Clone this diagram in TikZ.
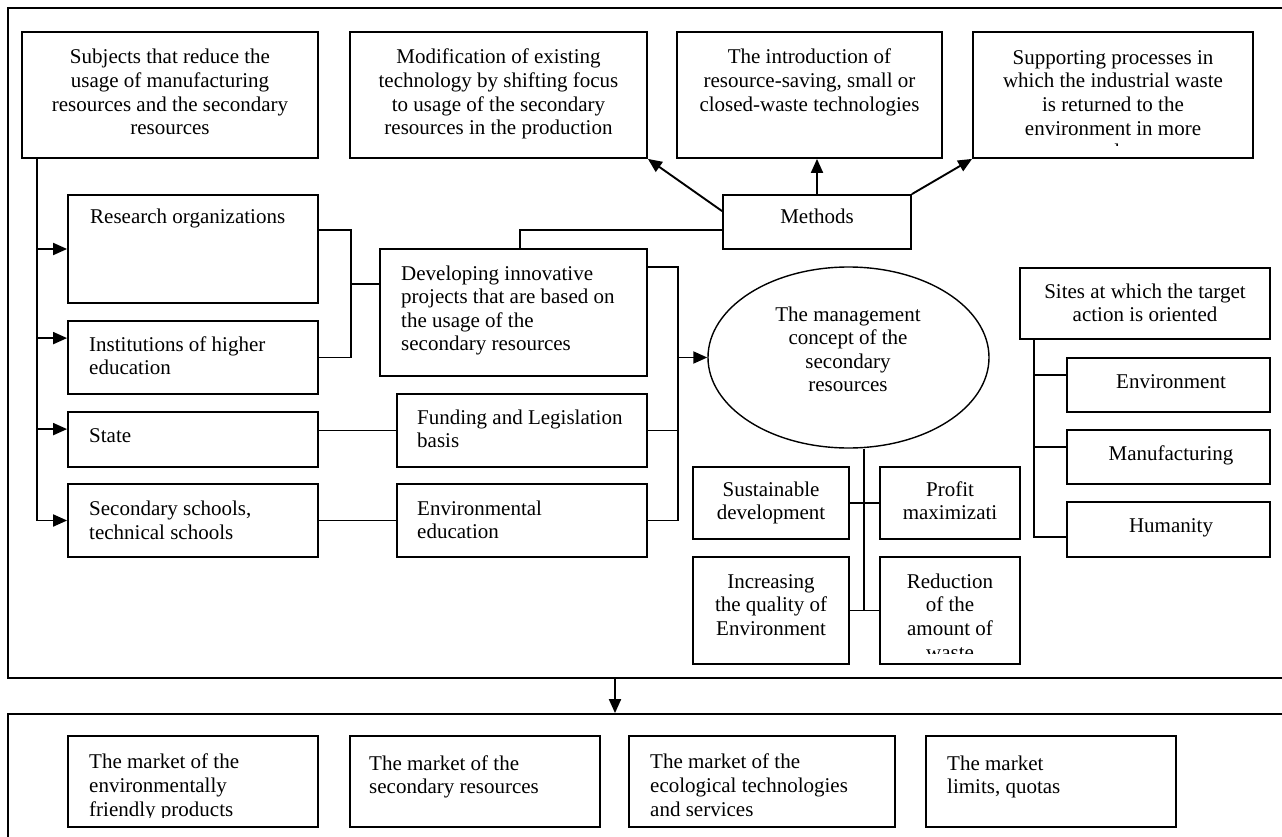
\documentclass[tikz,border=0pt]{standalone}
\usepackage{fontspec}
\setmainfont{Liberation Serif}
\usetikzlibrary{arrows.meta,shapes.geometric,fit,calc}
\begin{document}
\begin{tikzpicture}[x=1pt,y=-1pt,
  box/.style={draw, line width=1.8pt, inner sep=0pt},
  ln/.style={line width=1.9pt},
  arr/.style={line width=1.9pt, -{Triangle[length=14pt,width=12pt]}},
  ctxt/.style={inner sep=0pt, align=center, font=\fontsize{21}{23.6}\selectfont, anchor=base},
  ltxt/.style={inner sep=0pt, align=left, font=\fontsize{21}{23.6}\selectfont, anchor=base west},
]
\useasboundingbox (0,0) rectangle (1282,837);
\clip (0,0) rectangle (1282,837);

% frames
\node[box, fit={(8,8) (1300,678)}] (topF) {};
\node[box, fit={(8,714) (1300,900)}] (botF) {};
\coordinate (xA) at (615,0);
\draw[arr] (topF.south -| xA) -- (botF.north -| xA);

% boxes
\node[box, fit={(22,32) (318,158)}] (subj) {};
\node[box, fit={(350,32) (647,158)}] (mod) {};
\node[box, fit={(677,32) (942,158)}] (intro) {};
\node[box, fit={(973,32) (1253,158)}] (supp) {};
\node[box, fit={(723,195) (911,249)}] (meth) {};
\node[box, fit={(68,195) (318,303)}] (res) {};
\node[box, fit={(68,321) (318,394)}] (inst) {};
\node[box, fit={(68,412) (318,467)}] (state) {};
\node[box, fit={(68,484) (318,557)}] (sec) {};
\node[box, fit={(380,249) (647,376)}] (dev) {};
\node[box, fit={(397,394) (647,467)}] (fund) {};
\node[box, fit={(397,484) (647,557)}] (enved) {};
\node[draw, ellipse, line width=1.4pt, inner sep=0pt, minimum width=281pt, minimum height=181pt] (ell) at (848.5,357.5) {};
\node[box, fit={(693,467) (849,539)}] (sust) {};
\node[box, fit={(880,467) (1020,539)}] (prof) {};
\node[box, fit={(693,557) (849,664)}] (incr) {};
\node[box, fit={(880,557) (1020,664)}] (red) {};
\node[box, fit={(1020,268) (1270,339)}] (sites) {};
\node[box, fit={(1067,358) (1270,412)}] (env) {};
\node[box, fit={(1067,430) (1270,484)}] (manu) {};
\node[box, fit={(1067,502) (1270,557)}] (hum) {};
\node[box, fit={(68,736) (318,827)}] (m1) {};
\node[box, fit={(350,736) (600,827)}] (m2) {};
\node[box, fit={(629,736) (895,827)}] (m3) {};
\node[box, fit={(926,736) (1176,827)}] (m4) {};

% left trunk
\coordinate (tr) at ($(subj.south west)+(16,0)$);
\draw[ln] (tr) -- (tr |- sec.west);
\draw[arr] (tr |- res.west) -- (res.west);
\coordinate (iA) at ($(inst.north west)+(0,18)$);
\draw[arr] (tr |- iA) -- (iA);
\coordinate (sA) at ($(state.north west)+(0,18)$);
\draw[arr] (tr |- sA) -- (sA);
\draw[arr] (tr |- sec.west) -- (sec.west);

% bracket research/institutions -> developing
\coordinate (rA) at ($(res.north east)+(0,36)$);
\coordinate (bx1) at ($(rA)+(32,0)$);
\draw[ln] (rA) -- (bx1) |- (inst.east);
\coordinate (dA) at ($(dev.north west)+(0,36)$);
\draw[ln] (bx1 |- dA) -- (dA);

% methods
\coordinate (mA) at ($(meth.north west)+(0,36)$);
\coordinate (dTop) at ($(dev.north west)+(141,0)$);
\draw[ln] (mA) -| (dTop);
\coordinate (mB) at ($(meth.north west)+(0,17)$);
\draw[arr] (mB) -- (mod.south east);
\draw[arr] (meth.north) -- (meth.north |- intro.south);
\draw[arr] (meth.north east) -- (supp.south west);

% bracket to ellipse
\coordinate (dB) at ($(dev.north east)+(0,19)$);
\coordinate (bx2) at ($(dB)+(30,0)$);
\draw[ln] (dB) -- (bx2) |- (enved.east);
\draw[ln] (fund.east) -- (fund.east -| bx2);
\draw[arr] (bx2 |- ell.west) -- (ell.west);
\draw[ln] (state.east |- fund.west) -- (fund.west);
\draw[ln] (sec.east) -- (enved.west);

% ellipse goals
\coordinate (eB) at ($(ell.south)+(15.5,0)$);
\draw[ln] (eB) -- (eB |- incr.east);
\draw[ln] (sust.east) -- (prof.west);
\draw[ln] (incr.east) -- (red.west);

% sites
\coordinate (sB) at ($(sites.south west)+(15,0)$);
\coordinate (hA) at ($(hum.north west)+(0,36)$);
\draw[ln] (sB) |- (hA);
\coordinate (eA) at ($(env.north west)+(0,18)$);
\draw[ln] (sB |- eA) -- (eA);
\coordinate (maA) at ($(manu.north west)+(0,18)$);
\draw[ln] (sB |- maA) -- (maA);

% texts (anchored at the baseline of the last line)
\node[ctxt] (subjT) at (170,134.8) {Subjects that reduce the\\usage of manufacturing\\resources and the secondary\\resources};
\node[ctxt] (modT) at (498.5,134.8) {Modification of existing\\technology by shifting focus\\to usage of the secondary\\resources in the production};
\node[ctxt] (introT) at (809.5,111.2) {The introduction of\\resource-saving, small or\\closed-waste technologies};
\begin{scope}
\clip ($(supp.north west)+(1,1)$) rectangle ($(supp.south east)+(-1,-13)$);
\node[ctxt] (suppT) at (1113,158.8) {Supporting processes in\\which the industrial waste\\is returned to the\\environment in more\\natural state};
\end{scope}
\node[ctxt] (methT) at (817,224) {Methods};
\node[ltxt] (resT) at (90,224) {Research organizations};
\node[ltxt] (instT) at (89,374.6) {Institutions of higher\\education};
\node[ltxt] (stateT) at (89,442) {State};
\node[ltxt] (secT) at (89,539) {Secondary schools,\\technical schools};
\node[ltxt] (devT) at (401,350.8) {Developing innovative\\projects that are based on\\the usage of the\\secondary resources};
\node[ltxt] (fundT) at (417,447.6) {Funding and Legislation\\basis};
\node[ltxt] (envedT) at (417,538.6) {Environmental\\education};
\node[ctxt] (ellT) at (848,391.8) {The management\\concept of the\\secondary\\resources};
\node[ctxt] (sustT) at (771,519.6) {Sustainable\\development};
\node[ctxt] (profT) at (950,519.6) {Profit\\maximizati};
\node[ctxt] (incrT) at (771,635.2) {Increasing\\the quality of\\Environment};
\begin{scope}
\clip ($(red.north west)+(1,1)$) rectangle ($(red.south east)+(-1,-11)$);
\node[ctxt] (redT) at (950,659) {Reduction\\of the\\amount of\\waste};
\end{scope}
\node[ctxt] (sitesT) at (1145,321.6) {Sites at which the target\\action is oriented};
\node[ctxt] (envT) at (1171,388) {Environment};
\node[ctxt] (manuT) at (1171,460) {Manufacturing};
\node[ctxt] (humT) at (1171,532) {Humanity};
\begin{scope}
\clip ($(m1.north west)+(1,1)$) rectangle ($(m1.south east)+(-1,-10)$);
\node[ltxt] (m1T) at (89,816) {The market of the\\environmentally\\friendly products};
\end{scope}
\node[ltxt] (m2T) at (369,793.6) {The market of the\\secondary resources};
\node[ltxt] (m3T) at (650,816) {The market of the\\ecological technologies\\and services};
\node[ltxt] (m4T) at (947,793.6) {The market\\limits, quotas};
\end{tikzpicture}
\end{document}
